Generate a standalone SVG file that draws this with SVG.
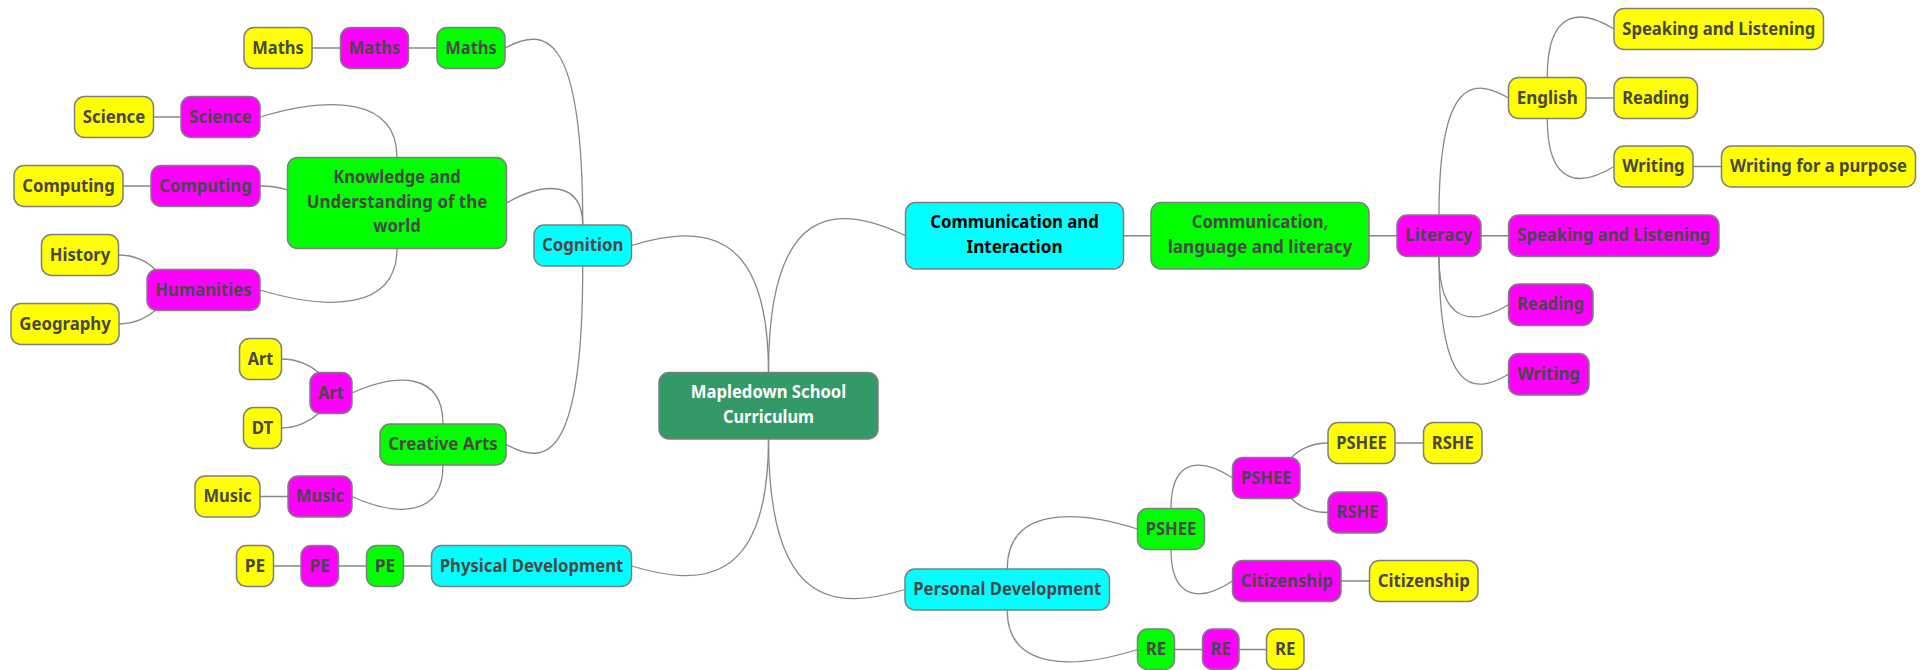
<svg xmlns="http://www.w3.org/2000/svg" width="1928" height="670" viewBox="0 0 1928 670">
<style>
.n rect{stroke:#7f7f7f;stroke-width:1.5}
.y rect{fill:#ffff00}.m rect{fill:#ff00ff}.g rect{fill:#00ff00}.c rect{fill:#00ffff}.r rect{fill:#339966}
text{font-family:"Noto Sans","Open Sans","DejaVu Sans",sans-serif;font-weight:700;font-size:17px;fill:#484848;text-anchor:middle}
.r text{fill:#ffffff}
#ci text{fill:#000000}
#edges path{fill:none;stroke:#888888;stroke-width:1.3}
</style>
<rect width="1928" height="670" fill="#ffffff"/>
<g id="edges">
<path d="M312,48H340.5M408.5,48H437M153.5,117H181M123,186H151M260,496.5H288M273.5,566H301M338.5,566H366.5M403.5,566H431.5"/>
<path d="M1123.5,235.75H1151M1369,235.75H1397M1481,235.75H1508.5M1585.5,98H1614M1693,166.5H1721.5M1395,443H1423.5M1341,581H1369.5M1174.5,649.5H1202.5M1239,649.5H1266.5"/>
<path d="M768.5,372.5C768.5,225 700,225 631.5,245.5"/>
<path d="M768.5,439C768.5,586.5 700,586.5 631.5,566"/>
<path d="M768.5,372.5C768.5,202.5 837,202.5 905.5,235.75"/>
<path d="M768.5,439C768.5,610 836.75,610 905,589.5"/>
<path d="M582.75,225C582.75,27.5 543.9,27.5 505,48"/>
<path d="M582.75,225C582.75,181 544.6,181 506.5,203"/>
<path d="M582.75,266C582.75,465 544.4,465 506,444.5"/>
<path d="M397,157.5C397,96.5 328.5,96.5 260,117"/>
<path d="M397,248.5C397,310.5 328.5,310.5 260,290"/>
<path d="M443,424C443,372.5 397.5,372.5 352,393"/>
<path d="M443,465C443,517 397.5,517 352,496.5"/>
<path d="M1439,215C1439,77.5 1473.75,77.5 1508.5,98"/>
<path d="M1439,256.5C1439,325.5 1473.75,325.5 1508.5,304.75"/>
<path d="M1439,256.5C1439,395 1473.75,395 1508.5,374.25"/>
<path d="M1547.25,77.5C1547.25,8.5 1580.6,8.5 1614,29"/>
<path d="M1547.25,118.5C1547.25,187 1580.6,187 1614,166.5"/>
<path d="M1007.25,569C1007.25,508.5 1072.4,508.5 1137.5,529"/>
<path d="M1007.25,610C1007.25,670 1072.4,670 1137.5,649.5"/>
<path d="M1171,508.5C1171,457.5 1201.75,457.5 1232.5,478"/>
<path d="M1171,549.5C1171,601.5 1201.75,601.5 1232.5,581"/>
<path d="M118.5,255C135,255 148,262 155,269.5"/>
<path d="M119,324C135,324 148,317 155,310.5"/>
<path d="M281.5,359C298,359 311.5,366 318.5,372.5"/>
<path d="M281.5,428C298,428 311.5,420 318.5,413.5"/>
<path d="M1328,443C1311.5,443 1298.5,450 1291.5,457.5"/>
<path d="M1328,512.5C1311.5,512.5 1298.5,506 1291.5,498.5"/>
<path d="M260,186C272,186 279,187 287.5,190"/>
</g>
<g id="root" class="n r"><rect x="659" y="372.5" width="219" height="66.5" rx="10"/><text x="768.5" y="398.25" textLength="155.5" lengthAdjust="spacingAndGlyphs">Mapledown School</text><text x="768.5" y="423.25" textLength="91" lengthAdjust="spacingAndGlyphs">Curriculum</text></g>
<g id="cognition" class="n c"><rect x="534" y="225" width="97.5" height="41" rx="10"/><text x="582.75" y="251" textLength="81.5" lengthAdjust="spacingAndGlyphs">Cognition</text></g>
<g id="maths_g" class="n g"><rect x="437" y="27.5" width="68" height="41" rx="10"/><text x="471" y="53.5" textLength="51.5" lengthAdjust="spacingAndGlyphs">Maths</text></g>
<g id="maths_m" class="n m"><rect x="340.5" y="27.5" width="68" height="41" rx="10"/><text x="374.5" y="53.5" textLength="51.5" lengthAdjust="spacingAndGlyphs">Maths</text></g>
<g id="maths_y" class="n y"><rect x="244" y="27.5" width="68" height="41" rx="10"/><text x="278" y="53.5" textLength="51.5" lengthAdjust="spacingAndGlyphs">Maths</text></g>
<g id="knowledge" class="n g"><rect x="287.5" y="157.5" width="219" height="91" rx="10"/><text x="397" y="183" textLength="127.5" lengthAdjust="spacingAndGlyphs">Knowledge and</text><text x="397" y="207.7" textLength="180.5" lengthAdjust="spacingAndGlyphs">Understanding of the</text><text x="397" y="232.4" textLength="47.5" lengthAdjust="spacingAndGlyphs">world</text></g>
<g id="science_m" class="n m"><rect x="181" y="96.5" width="79" height="41" rx="10"/><text x="220.5" y="122.5" textLength="62.5" lengthAdjust="spacingAndGlyphs">Science</text></g>
<g id="science_y" class="n y"><rect x="74.5" y="96.5" width="79" height="41" rx="10"/><text x="114" y="122.5" textLength="62.5" lengthAdjust="spacingAndGlyphs">Science</text></g>
<g id="computing_m" class="n m"><rect x="151" y="165.5" width="109" height="41" rx="10"/><text x="205.5" y="191.5" textLength="92.5" lengthAdjust="spacingAndGlyphs">Computing</text></g>
<g id="computing_y" class="n y"><rect x="14" y="165.5" width="109" height="41" rx="10"/><text x="68.5" y="191.5" textLength="92.5" lengthAdjust="spacingAndGlyphs">Computing</text></g>
<g id="humanities" class="n m"><rect x="147" y="269.5" width="113" height="41" rx="10"/><text x="203.5" y="295.5" textLength="96.5" lengthAdjust="spacingAndGlyphs">Humanities</text></g>
<g id="history" class="n y"><rect x="41.5" y="234.5" width="77" height="41" rx="10"/><text x="80" y="260.5" textLength="60.5" lengthAdjust="spacingAndGlyphs">History</text></g>
<g id="geography" class="n y"><rect x="11" y="303.5" width="108" height="41" rx="10"/><text x="65" y="329.5" textLength="91.5" lengthAdjust="spacingAndGlyphs">Geography</text></g>
<g id="creative" class="n g"><rect x="380" y="424" width="126" height="41" rx="10"/><text x="443" y="450" textLength="109.5" lengthAdjust="spacingAndGlyphs">Creative Arts</text></g>
<g id="art_m" class="n m"><rect x="310" y="372.5" width="42" height="41" rx="10"/><text x="331" y="398.5" textLength="25.5" lengthAdjust="spacingAndGlyphs">Art</text></g>
<g id="art_y" class="n y"><rect x="239.5" y="338.5" width="42" height="41" rx="10"/><text x="260.5" y="364.5" textLength="25.5" lengthAdjust="spacingAndGlyphs">Art</text></g>
<g id="dt" class="n y"><rect x="243.5" y="407.5" width="38" height="41" rx="10"/><text x="262.5" y="433.5" textLength="21.5" lengthAdjust="spacingAndGlyphs">DT</text></g>
<g id="music_m" class="n m"><rect x="288" y="476" width="64" height="41" rx="10"/><text x="320" y="502" textLength="48" lengthAdjust="spacingAndGlyphs">Music</text></g>
<g id="music_y" class="n y"><rect x="195" y="476" width="65" height="41" rx="10"/><text x="227.5" y="502" textLength="48" lengthAdjust="spacingAndGlyphs">Music</text></g>
<g id="physical" class="n c"><rect x="431.5" y="545.5" width="200" height="41" rx="10"/><text x="531.5" y="571.5" textLength="183.5" lengthAdjust="spacingAndGlyphs">Physical Development</text></g>
<g id="pe_g" class="n g"><rect x="366.5" y="545.5" width="37" height="41" rx="10"/><text x="385" y="571.5" textLength="20.5" lengthAdjust="spacingAndGlyphs">PE</text></g>
<g id="pe_m" class="n m"><rect x="301" y="545.5" width="37.5" height="41" rx="10"/><text x="319.75" y="571.5" textLength="20.5" lengthAdjust="spacingAndGlyphs">PE</text></g>
<g id="pe_y" class="n y"><rect x="236.5" y="545.5" width="37" height="41" rx="10"/><text x="255" y="571.5" textLength="20.5" lengthAdjust="spacingAndGlyphs">PE</text></g>
<g id="ci" class="n c"><rect x="905.5" y="202.5" width="218" height="66.5" rx="10"/><text x="1014.5" y="228.25" textLength="168.5" lengthAdjust="spacingAndGlyphs">Communication and</text><text x="1014.5" y="253.25" textLength="96" lengthAdjust="spacingAndGlyphs">Interaction</text></g>
<g id="cll" class="n g"><rect x="1151" y="202.5" width="218" height="66.5" rx="10"/><text x="1260" y="228.25" textLength="136.5" lengthAdjust="spacingAndGlyphs">Communication,</text><text x="1260" y="253.25" textLength="184.5" lengthAdjust="spacingAndGlyphs">language and literacy</text></g>
<g id="literacy" class="n m"><rect x="1397" y="215" width="84" height="41.5" rx="10"/><text x="1439" y="241.25" textLength="67.5" lengthAdjust="spacingAndGlyphs">Literacy</text></g>
<g id="english" class="n y"><rect x="1508.5" y="77.5" width="77.5" height="41" rx="10"/><text x="1547.25" y="103.5" textLength="61" lengthAdjust="spacingAndGlyphs">English</text></g>
<g id="sl_y" class="n y"><rect x="1614" y="8.5" width="209.5" height="41" rx="10"/><text x="1718.75" y="34.5" textLength="193" lengthAdjust="spacingAndGlyphs">Speaking and Listening</text></g>
<g id="reading_y" class="n y"><rect x="1614" y="77.5" width="83.5" height="41" rx="10"/><text x="1655.75" y="103.5" textLength="67" lengthAdjust="spacingAndGlyphs">Reading</text></g>
<g id="writing_y" class="n y"><rect x="1614" y="146" width="79" height="41" rx="10"/><text x="1653.5" y="172" textLength="62.5" lengthAdjust="spacingAndGlyphs">Writing</text></g>
<g id="wfap" class="n y"><rect x="1721.5" y="146" width="194" height="41" rx="10"/><text x="1818.5" y="172" textLength="177" lengthAdjust="spacingAndGlyphs">Writing for a purpose</text></g>
<g id="sl_m" class="n m"><rect x="1508.5" y="215" width="210.5" height="41.5" rx="10"/><text x="1613.75" y="241.25" textLength="193" lengthAdjust="spacingAndGlyphs">Speaking and Listening</text></g>
<g id="reading_m" class="n m"><rect x="1508.5" y="284" width="84.5" height="41.5" rx="10"/><text x="1550.75" y="310.25" textLength="67" lengthAdjust="spacingAndGlyphs">Reading</text></g>
<g id="writing_m" class="n m"><rect x="1508.5" y="353.5" width="80.5" height="41.5" rx="10"/><text x="1548.75" y="379.75" textLength="62.5" lengthAdjust="spacingAndGlyphs">Writing</text></g>
<g id="pd" class="n c"><rect x="905" y="569" width="204.5" height="41" rx="10"/><text x="1007.25" y="595" textLength="188" lengthAdjust="spacingAndGlyphs">Personal Development</text></g>
<g id="pshee_g" class="n g"><rect x="1137.5" y="508.5" width="67" height="41" rx="10"/><text x="1171" y="534.5" textLength="50.5" lengthAdjust="spacingAndGlyphs">PSHEE</text></g>
<g id="pshee_m" class="n m"><rect x="1232.5" y="457.5" width="67.5" height="41" rx="10"/><text x="1266.25" y="483.5" textLength="50.5" lengthAdjust="spacingAndGlyphs">PSHEE</text></g>
<g id="pshee_y" class="n y"><rect x="1328" y="422.5" width="67" height="41" rx="10"/><text x="1361.5" y="448.5" textLength="50.5" lengthAdjust="spacingAndGlyphs">PSHEE</text></g>
<g id="rshe_y" class="n y"><rect x="1423.5" y="422.5" width="58.5" height="41" rx="10"/><text x="1452.75" y="448.5" textLength="42" lengthAdjust="spacingAndGlyphs">RSHE</text></g>
<g id="rshe_m" class="n m"><rect x="1328" y="492" width="59" height="41" rx="10"/><text x="1357.5" y="518" textLength="42" lengthAdjust="spacingAndGlyphs">RSHE</text></g>
<g id="cit_m" class="n m"><rect x="1232.5" y="560.5" width="108.5" height="41" rx="10"/><text x="1286.75" y="586.5" textLength="92" lengthAdjust="spacingAndGlyphs">Citizenship</text></g>
<g id="cit_y" class="n y"><rect x="1369.5" y="560.5" width="108.5" height="41" rx="10"/><text x="1423.75" y="586.5" textLength="92" lengthAdjust="spacingAndGlyphs">Citizenship</text></g>
<g id="re_g" class="n g"><rect x="1137.5" y="629" width="37" height="40.5" rx="10"/><text x="1156" y="655" textLength="20.5" lengthAdjust="spacingAndGlyphs">RE</text></g>
<g id="re_m" class="n m"><rect x="1202.5" y="629" width="36.5" height="40.5" rx="10"/><text x="1220.75" y="655" textLength="20.5" lengthAdjust="spacingAndGlyphs">RE</text></g>
<g id="re_y" class="n y"><rect x="1266.5" y="629" width="37.5" height="40.5" rx="10"/><text x="1285.25" y="655" textLength="20.5" lengthAdjust="spacingAndGlyphs">RE</text></g>
</svg>
